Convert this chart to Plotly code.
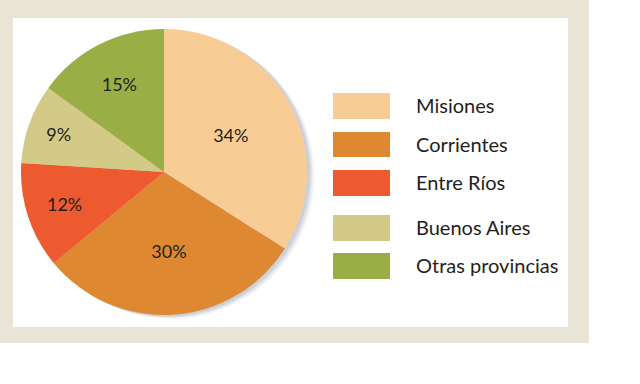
import plotly.graph_objects as go

provinces = ["Misiones", "Corrientes", "Entre Ríos", "Buenos Aires", "Otras provincias"]
shares = [34, 30, 12, 9, 15]
colors = ["#F8CD95", "#DE8832", "#EE5A30", "#D3CA87", "#9AAE46"]

W, H = 640, 384
FONT = "Lato"

def px(x):
    return x / W

def py(y):
    return 1 - y / H

fig = go.Figure()

# soft shadow pies (same data), offset right
for off, op in [(7, 0.10), (5, 0.14), (3, 0.18)]:
    fig.add_trace(go.Pie(
        labels=provinces, values=shares, sort=False, direction="clockwise",
        marker=dict(colors=["#7C8399"] * len(shares), line=dict(width=0)),
        textinfo="none", hoverinfo="skip", showlegend=False, opacity=op,
        domain=dict(x=[px(21 + off), px(307 + off)], y=[py(315 + off / 2), py(29 + off / 2)]),
    ))

fig.add_trace(go.Pie(
    labels=provinces, values=shares, sort=False, direction="clockwise", rotation=0,
    marker=dict(colors=colors, line=dict(width=0)),
    texttemplate="%{value}%", textposition="inside", insidetextorientation="horizontal",
    textfont=dict(family=FONT, size=18, color="#231F20"),
    showlegend=False,
    domain=dict(x=[px(21), px(307)], y=[py(315), py(29)]),
))

shapes = [
    dict(type="rect", xref="paper", yref="paper", x0=px(0), x1=px(589), y0=py(343), y1=py(0),
         fillcolor="#E8E5D6", line=dict(width=0), layer="below"),
    dict(type="rect", xref="paper", yref="paper", x0=px(13), x1=px(568), y0=py(327), y1=py(18),
         fillcolor="#FFFFFF", line=dict(width=0), layer="below"),
]
annotations = []
rows = [(93, 119), (132, 157), (170, 196), (215, 241), (253, 279)]
for name, col, (y0, y1) in zip(provinces, colors, rows):
    shapes.append(dict(type="rect", xref="paper", yref="paper", x0=px(333), x1=px(390),
                       y0=py(y1), y1=py(y0), fillcolor=col, line=dict(width=0), layer="above"))
    annotations.append(dict(text=name, xref="paper", yref="paper", x=px(414), y=py((y0 + y1) / 2 - 1),
                            xanchor="left", yanchor="middle", showarrow=False,
                            font=dict(family=FONT, size=20, color="#231F20")))

fig.update_layout(
    width=W, height=H, margin=dict(l=0, r=0, t=0, b=0),
    paper_bgcolor="#FFFFFF", plot_bgcolor="#FFFFFF",
    shapes=shapes, annotations=annotations,
)

fig.write_html("out.html", config={"displayModeBar": False},
               post_script="document.body.style.margin='0px';document.body.style.overflow='hidden';")
